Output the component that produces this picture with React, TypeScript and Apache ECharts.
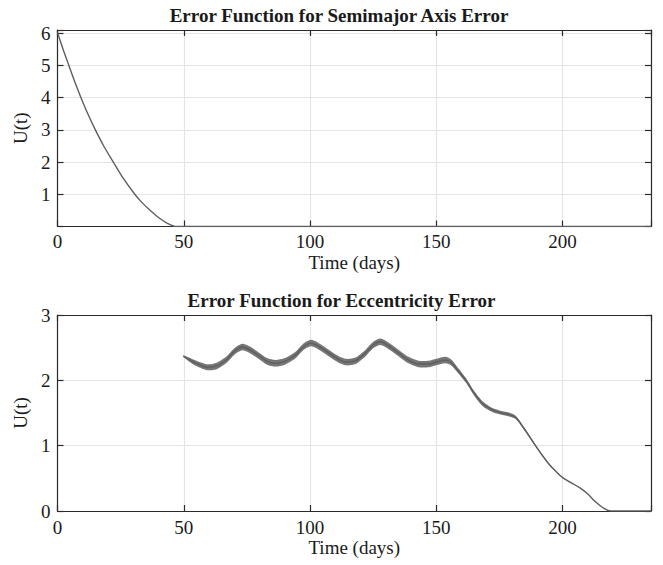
import React, { useEffect, useRef } from "react";
import * as echarts from "echarts";

// Semimajor axis error function U(t), time in days
const semiT = [0, 2.2, 4.5, 6.8, 9.3, 12, 15, 18.3, 22.1, 26, 30.6, 33, 36, 40, 43.5, 47, 235];
const semiU = [6.02, 5.5, 5.0, 4.5, 4.0, 3.5, 3.0, 2.5, 2.0, 1.5, 1.0, 0.78, 0.55, 0.28, 0.1, 0.0, 0.0];

// Eccentricity error function: mean curve and half-width of the fast oscillation band
const eccT = [
  49.8, 52, 55, 59.3, 63, 67, 70, 73.1, 76, 80, 83, 86.3, 90, 94, 97, 100.2, 103, 107.4, 110, 114,
  118, 122, 125, 127.9, 131, 135, 139, 143, 147, 150, 153.6, 156, 158, 161.7, 165, 168.4, 172, 175,
  178.5, 181.5, 185.3, 189.3, 192, 195, 197.5, 200, 203.5, 207, 210, 213, 216, 219, 235,
];
const eccU = [
  2.37, 2.32, 2.26, 2.2, 2.22, 2.32, 2.44, 2.51, 2.47, 2.37, 2.29, 2.26, 2.29, 2.38, 2.5, 2.57, 2.53,
  2.42, 2.35, 2.28, 2.3, 2.42, 2.54, 2.59, 2.53, 2.42, 2.31, 2.25, 2.25, 2.28, 2.31, 2.27, 2.18, 2.0,
  1.8, 1.64, 1.55, 1.51, 1.48, 1.43, 1.23, 1.0, 0.85, 0.7, 0.6, 0.51, 0.43, 0.35, 0.26, 0.14, 0.05,
  0.0, 0.0,
];
const eccHalfWidth = [
  0.01, 0.03, 0.04, 0.045, 0.05, 0.05, 0.05, 0.05, 0.05, 0.05, 0.05, 0.05, 0.05, 0.05,
  0.05, 0.05, 0.05, 0.05, 0.05, 0.05, 0.05, 0.05, 0.05, 0.05, 0.05, 0.05, 0.05, 0.05,
  0.05, 0.05, 0.05, 0.045, 0.04, 0.035, 0.035, 0.035, 0.03, 0.03, 0.03, 0.025, 0.02, 0.015, 0.012,
  0.01, 0.008, 0.006, 0.005, 0.004, 0.003, 0.002, 0.0, 0.0, 0.0,
];

const xTicks = [0, 50, 100, 150, 200];
const semiYTicks = [1, 2, 3, 4, 5, 6];
const eccYTicks = [0, 1, 2, 3];

const titles = ["Error Function for Semimajor Axis Error", "Error Function for Eccentricity Error"];
const xName = "Time (days)";
const yName = "U(t)";

const FONT = "'Liberation Serif', 'Times New Roman', serif";
const TEXT = "#1a1a1a";
const FRAME = "#2b2b2b";
const GRIDC = "#e4e4e4";
const LINE = "#5e5e5e";

export default function App() {
  const ref = useRef<HTMLDivElement>(null);

  useEffect(() => {
    if (!ref.current) return;
    const chart = echarts.init(ref.current, undefined, { renderer: "svg" });

    const labelStyle = { fontFamily: FONT, fontSize: 19, color: TEXT };

    const mainX = (gridIndex: number, labelMargin: number, nameGap: number) => ({
      type: "value",
      gridIndex,
      min: 0,
      max: 235,
      interval: 50,
      name: xName,
      nameLocation: "middle",
      nameGap,
      nameTextStyle: labelStyle,
      axisLine: { show: true, onZero: false, lineStyle: { color: FRAME, width: 1.2 } },
      axisTick: { show: true, inside: true, length: 6, lineStyle: { color: FRAME, width: 1.2 } },
      axisLabel: {
        ...labelStyle,
        margin: labelMargin,
        formatter: (v: number) => (xTicks.includes(v) ? String(v) : ""),
      },
      splitLine: { show: true, lineStyle: { color: GRIDC, width: 1.2 } },
    });
    const mirrorX = (gridIndex: number) => ({
      type: "value",
      gridIndex,
      position: "top",
      min: 0,
      max: 235,
      interval: 50,
      axisLine: { show: true, onZero: false, lineStyle: { color: FRAME, width: 1.2 } },
      axisTick: { show: true, inside: true, length: 6, lineStyle: { color: FRAME, width: 1.2 } },
      axisLabel: { show: false },
      splitLine: { show: false },
    });
    const mainY = (gridIndex: number, max: number, ticks: number[]) => ({
      type: "value",
      gridIndex,
      min: 0,
      max,
      interval: 1,
      name: yName,
      nameLocation: "middle",
      nameGap: 25,
      nameRotate: 90,
      nameTextStyle: labelStyle,
      axisLine: { show: true, onZero: false, lineStyle: { color: FRAME, width: 1.2 } },
      axisTick: { show: true, inside: true, length: 6, lineStyle: { color: FRAME, width: 1.2 } },
      axisLabel: {
        ...labelStyle,
        margin: 7,
        formatter: (v: number) => (ticks.includes(v) ? String(v) : ""),
      },
      splitLine: { show: true, lineStyle: { color: GRIDC, width: 1.2 } },
    });
    const mirrorY = (gridIndex: number, max: number) => ({
      type: "value",
      gridIndex,
      position: "right",
      min: 0,
      max,
      interval: 1,
      axisLine: { show: true, onZero: false, lineStyle: { color: FRAME, width: 1.2 } },
      axisTick: { show: true, inside: true, length: 6, lineStyle: { color: FRAME, width: 1.2 } },
      axisLabel: { show: false },
      splitLine: { show: false },
    });

    const semiData = semiT.map((t, i) => [t, semiU[i]]);
    const eccData = eccT.map((t, i) => [t, eccU[i]]);

    chart.setOption({
      animation: false,
      backgroundColor: "#ffffff",
      grid: [
        { left: 57.5, right: 12, top: 30, height: 196.5 },
        { left: 57.5, right: 12, top: 315, height: 196 },
      ],
      xAxis: [mainX(0, 5, 26), mirrorX(0), mainX(1, 7, 21), mirrorX(1)],
      yAxis: [mainY(0, 6.1, semiYTicks), mirrorY(0, 6.1), mainY(1, 3, eccYTicks), mirrorY(1, 3)],
      graphic: [
        {
          type: "text",
          x: 339,
          y: 15,
          style: {
            text: titles[0],
            font: `bold 19px ${FONT}`,
            fill: TEXT,
            textAlign: "center",
            textVerticalAlign: "middle",
          },
        },
        {
          type: "text",
          x: 341.5,
          y: 300.5,
          style: {
            text: titles[1],
            font: `bold 19px ${FONT}`,
            fill: TEXT,
            textAlign: "center",
            textVerticalAlign: "middle",
          },
        },
      ],
      series: [
        {
          type: "line",
          xAxisIndex: 0,
          yAxisIndex: 0,
          data: semiData,
          symbol: "none",
          smooth: 0.3,
          lineStyle: { color: LINE, width: 1.4 },
        },
        {
          // oscillation envelope: upper edge forward, lower edge back
          type: "custom",
          xAxisIndex: 2,
          yAxisIndex: 2,
          data: [[eccT[0], eccU[0]]],
          renderItem: (_params: any, api: any) => {
            const upper = eccT.map((t, i) => api.coord([t, eccU[i] + eccHalfWidth[i]]));
            const lower = eccT.map((t, i) => api.coord([t, eccU[i] - eccHalfWidth[i]])).reverse();
            return {
              type: "polygon",
              shape: { points: upper.concat(lower), smooth: 0.25 },
              style: { fill: "#767676", stroke: "none" },
            };
          },
        },
        {
          type: "line",
          xAxisIndex: 2,
          yAxisIndex: 2,
          data: eccData,
          symbol: "none",
          smooth: 0.3,
          lineStyle: { color: LINE, width: 1.4 },
        },
      ],
    });

    return () => chart.dispose();
  }, []);

  return (
    <div
      ref={ref}
      style={{ position: "absolute", left: 0, top: 0, width: 663, height: 565, background: "#fff" }}
    />
  );
}
